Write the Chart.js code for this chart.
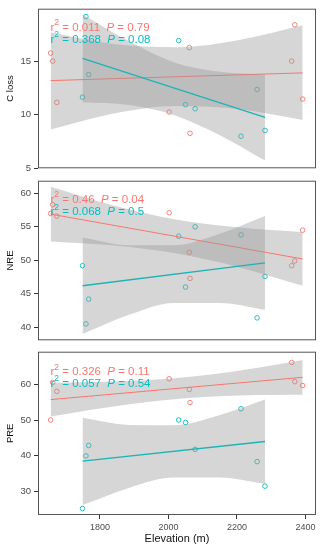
<!DOCTYPE html>
<html lang="en">
<head>
<meta charset="UTF-8">
<title>Elevation regressions</title>
<script src="https://cdn.jsdelivr.net/npm/chart.js"></script>
<style>
  body { margin: 0; background: #fff; }
  #wrap { position: relative; width: 323px; height: 550px; }
  canvas { position: absolute; left: 0; }
</style>
</head>
<body>
<div id="wrap">
  <canvas id="closs" width="323" height="177" style="top:0"></canvas>
  <canvas id="nre" width="323" height="177" style="top:172px"></canvas>
  <canvas id="pre" width="323" height="207" style="top:343px"></canvas>
</div>
<script>
// elevations of the sites (two groups)
const redElev  = [1656, 1662, 1674, 2002, 2061, 2063, 2360, 2369, 2392];
const cyanElev = [1749, 1759, 1767, 2030, 2050, 2078, 2212, 2259, 2282];

// x where the fitted lines / bands were read
const redFitX  = [1656, 2392];
const cyanFitX = [1749, 2282];
const redBandX  = [1656, 1840, 2025, 2210, 2392];
const cyanBandX = [1749, 1885, 2015, 2150, 2282];

// C loss
const clossRed  = [15.75, 15.0, 11.14, 10.24, 16.26, 8.25, 15.0, 18.4, 11.45];
const clossCyan = [11.63, 19.16, 13.74, 16.92, 10.93, 10.55, 7.98, 12.35, 8.52];
const clossRedFit  = [13.18, 13.9];
const clossCyanFit = [15.25, 9.73];
const clossRedHi  = [17.7, 16.6, 16.3, 17.0, 18.35];
const clossRedLo  = [8.6, 10.1, 10.8, 10.5, 9.5];
const clossCyanHi = [19.35, 16.85, 14.9, 14.0, 13.75];
const clossCyanLo = [11.15, 10.9, 9.97, 8.08, 5.7];
const clossR2 = ['0.011', '0.368'];
const clossP  = ['0.79', '0.08'];

// NRE
const nreRed  = [57.0, 58.3, 56.6, 57.1, 51.2, 47.3, 49.2, 49.9, 54.5];
const nreCyan = [49.2, 40.5, 44.2, 53.6, 46.0, 55.0, 53.8, 41.4, 47.6];
const nreRedFit  = [56.9, 50.2];
const nreCyanFit = [46.2, 49.6];
const nreRedHi  = [61.0, 58.2, 56.06, 54.9, 54.2];
const nreRedLo  = [52.8, 52.2, 51.0, 48.9, 46.2];
const nreCyanHi = [53.4, 52.24, 52.23, 53.95, 56.6];
const nreCyanLo = [39.0, 41.86, 43.63, 43.63, 42.6];
const nreR2 = ['0.46', '0.068'];
const nreP  = ['0.04', '0.5'];

// PRE
const preRed  = [50.0, 60.6, 58.06, 61.6, 58.6, 54.9, 66.2, 60.8, 59.7];
const preCyan = [25.1, 39.9, 42.84, 50.0, 49.3, 41.73, 53.16, 38.3, 31.4];
const preRedFit  = [55.74, 62.02];
const preCyanFit = [38.41, 43.95];
const preRedHi  = [60.4, 60.8, 61.8, 63.9, 66.85];
const preRedLo  = [51.0, 53.8, 55.9, 56.9, 57.1];
const preCyanHi = [50.6, 48.6, 48.5, 51.4, 55.8];
const preCyanLo = [26.1, 30.9, 33.8, 33.8, 32.0];
const preR2 = ['0.326', '0.057'];
const preP  = ['0.11', '0.54'];

// ticks
const elevTicks  = [1800, 2000, 2200, 2400];
const clossTicks = [5, 10, 15];
const nreTicks   = [40, 45, 50, 55, 60];
const preTicks   = [30, 40, 50, 60];

const RED = '#F8766D';
const CYAN = '#00BFC4';
const BAND = 'rgba(153,153,153,0.4)';
const FONT = '"Liberation Sans", Arial, sans-serif';

const pts = (xs, ys) => xs.map((x, i) => ({x: x, y: ys[i]}));

function statText(ctx, x, y, color, r2, p) {
    ctx.save();
    ctx.fillStyle = color;
    ctx.textAlign = 'left';
    ctx.textBaseline = 'alphabetic';
    ctx.font = '11.5px ' + FONT;
    ctx.fillText('r', x, y);
    x += ctx.measureText('r').width;
    ctx.font = '8.5px ' + FONT;
    ctx.fillText('2', x, y - 5.5);
    x += ctx.measureText('2').width;
    ctx.font = '11.5px ' + FONT;
    let s = ' = ' + r2 + '  ';
    ctx.fillText(s, x, y);
    x += ctx.measureText(s).width;
    ctx.font = 'italic 11.5px ' + FONT;
    ctx.fillText('P', x, y);
    x += ctx.measureText('P').width;
    ctx.font = '11.5px ' + FONT;
    ctx.fillText(' = ' + p, x, y);
    ctx.restore();
}

function bandSet(xs, ys, fill, order) {
    return {
        data: pts(xs, ys),
        showLine: true,
        pointRadius: 0,
        borderWidth: 0,
        borderColor: 'rgba(0,0,0,0)',
        backgroundColor: BAND,
        fill: fill,
        tension: 0.4,
        cubicInterpolationMode: 'monotone',
        order: order
    };
}

function makePanel(id, p) {
    const datasets = [
        {data: pts(redElev, p.red), pointRadius: 2.3, borderWidth: 0.9, borderColor: RED, backgroundColor: 'rgba(0,0,0,0)', order: 10},
        {data: pts(cyanElev, p.cyan), pointRadius: 2.3, borderWidth: 0.9, borderColor: CYAN, backgroundColor: 'rgba(0,0,0,0)', order: 10},
        bandSet(redBandX, p.redHi, '+1', 8),
        bandSet(redBandX, p.redLo, false, 8),
        {data: pts(redFitX, p.redFit), showLine: true, pointRadius: 0, borderWidth: 1, borderColor: RED, order: 6},
        bandSet(cyanBandX, p.cyanHi, '+1', 4),
        bandSet(cyanBandX, p.cyanLo, false, 4),
        {data: pts(cyanFitX, p.cyanFit), showLine: true, pointRadius: 0, borderWidth: 1.3, borderColor: '#1CB4B6', order: 2}
    ];

    new Chart(document.getElementById(id), {
        type: 'scatter',
        data: {datasets: datasets},
        options: {
            responsive: false,
            animation: false,
            events: [],
            layout: {padding: {left: 0, right: 7, top: 6, bottom: p.padBottom}},
            plugins: {legend: {display: false}, tooltip: {enabled: false}},
            scales: {
                x: {
                    type: 'linear',
                    min: 1619, max: 2431,
                    display: p.showX,
                    afterBuildTicks: s => { s.ticks = elevTicks.map(v => ({value: v})); },
                    afterFit: s => { s.height = p.showX ? 35 : 0; },
                    grid: {display: true, drawOnChartArea: false, drawTicks: true, tickLength: 4, color: '#333'},
                    border: {display: false},
                    ticks: {autoSkip: false, maxRotation: 0, padding: 3, color: '#4d4d4d', font: {family: FONT, size: 9}, callback: v => String(v)},
                    title: {display: true, text: 'Elevation (m)', color: '#111', font: {family: FONT, size: 11}, padding: {top: 0, bottom: 4}}
                },
                y: {
                    type: 'linear',
                    min: p.min, max: p.max,
                    afterBuildTicks: s => { s.ticks = p.ticks.map(v => ({value: v})); },
                    afterFit: s => { s.width = 38; },
                    grid: {display: true, drawOnChartArea: false, drawTicks: true, tickLength: 4, color: '#333'},
                    border: {display: false},
                    ticks: {autoSkip: false, padding: 3, color: '#4d4d4d', font: {family: FONT, size: 9.5}, callback: v => String(v)},
                    title: {display: true, text: p.title, color: '#111', font: {family: FONT, size: 9.5}, padding: {top: 5, bottom: 0}}
                }
            }
        },
        plugins: [{
            id: 'panelDeco',
            afterDatasetsDraw(chart) {
                const ctx = chart.ctx, a = chart.chartArea;
                statText(ctx, a.left + 12.5, a.top + p.textY[0], RED, p.r2[0], p.p[0]);
                statText(ctx, a.left + 12.5, a.top + p.textY[1], CYAN, p.r2[1], p.p[1]);
                ctx.save();
                ctx.strokeStyle = '#555';
                ctx.lineWidth = 1;
                ctx.strokeRect(a.left + 0.5, a.top + 0.5, a.width - 1, a.height - 1);
                ctx.restore();
            }
        }]
    });
}

makePanel('closs', {
    red: clossRed, cyan: clossCyan, redFit: clossRedFit, cyanFit: clossCyanFit,
    redHi: clossRedHi, redLo: clossRedLo, cyanHi: clossCyanHi, cyanLo: clossCyanLo,
    r2: clossR2, p: clossP, ticks: clossTicks, title: 'C loss',
    min: 4.98, max: 19.9, showX: false, padBottom: 6, textY: [22, 34]
});
makePanel('nre', {
    red: nreRed, cyan: nreCyan, redFit: nreRedFit, cyanFit: nreCyanFit,
    redHi: nreRedHi, redLo: nreRedLo, cyanHi: nreCyanHi, cyanLo: nreCyanLo,
    r2: nreR2, p: nreP, ticks: nreTicks, title: 'NRE',
    min: 38.05, max: 61.89, showX: false, padBottom: 7, textY: [22, 34.3]
});
makePanel('pre', {
    red: preRed, cyan: preCyan, redFit: preRedFit, cyanFit: preCyanFit,
    redHi: preRedHi, redLo: preRedLo, cyanHi: preCyanHi, cyanLo: preCyanLo,
    r2: preR2, p: preP, ticks: preTicks, title: 'PRE',
    min: 23.27, max: 69.22, showX: true, padBottom: 0, textY: [23.5, 35]
});
</script>
</body>
</html>
